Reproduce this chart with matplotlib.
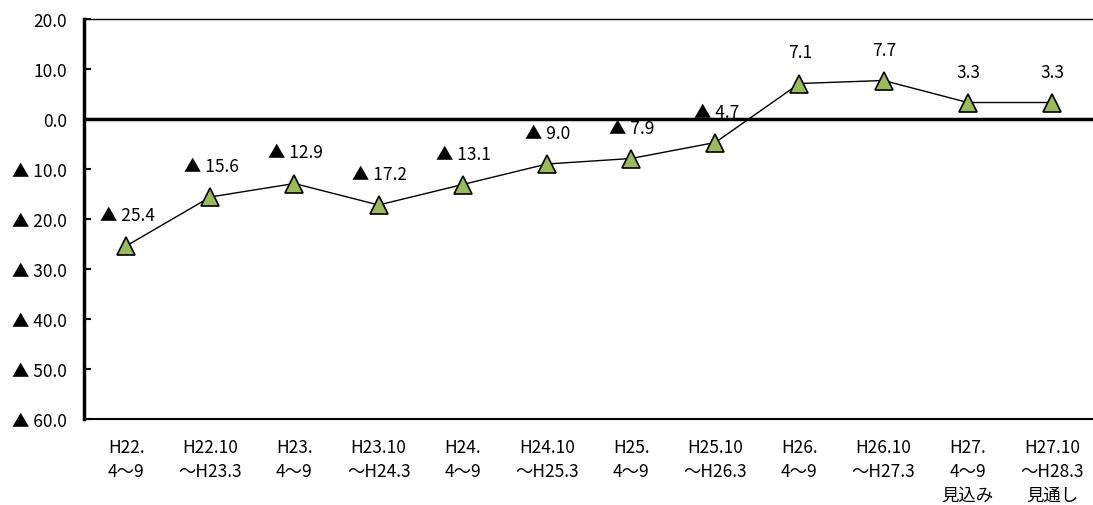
import matplotlib
matplotlib.use("Agg")
import matplotlib.pyplot as plt

plt.rcParams['font.family'] = ['Noto Sans CJK JP', 'DejaVu Sans']

categories = ["H22.\n4～9", "H22.10\n～H23.3", "H23.\n4～9", "H23.10\n～H24.3",
              "H24.\n4～9", "H24.10\n～H25.3", "H25.\n4～9", "H25.10\n～H26.3",
              "H26.\n4～9", "H26.10\n～H27.3", "H27.\n4～9\n見込み", "H27.10\n～H28.3\n見通し"]
values = [-25.4, -15.6, -12.9, -17.2, -13.1, -9.0, -7.9, -4.7, 7.1, 7.7, 3.3, 3.3]
yticks = [20, 10, 0, -10, -20, -30, -40, -50, -60]

FS = 12.5


def fmt(v):
    return f"{v:.1f}" if v >= 0 else f"▲ {abs(v):.1f}"


fig = plt.figure(figsize=(10.93, 5.06), dpi=100)
ax = fig.add_axes([84 / 1093, 1 - 420 / 506, 1010 / 1093, 400 / 506])

x = list(range(len(values)))
ax.plot(x, values, color='black', linewidth=1.0, marker='^', markersize=13,
        markerfacecolor='#9BBB59', markeredgecolor='black', markeredgewidth=1.2, zorder=3)
ax.axhline(0, color='black', linewidth=2.5, zorder=2)

for xi, v in zip(x, values):
    ax.annotate(fmt(v), (xi, v), xytext=(1, 31), textcoords='offset pixels',
                ha='center', va='center', fontsize=FS)

ax.set_xlim(-0.5, len(values) - 0.5)
ax.set_ylim(-60, 20)
ax.set_yticks(yticks)
ax.set_yticklabels([fmt(v) for v in yticks], fontsize=FS)
ax.set_xticks(x)
ax.set_xticklabels(categories, fontsize=FS, linespacing=1.4, va='top')
ax.tick_params(axis='x', length=0, pad=14)
ax.tick_params(axis='y', direction='in', length=5, width=1.5, pad=12)

ax.spines['left'].set_linewidth(2.5)
ax.spines['bottom'].set_linewidth(1.5)
ax.spines['top'].set_linewidth(1.0)
ax.spines['right'].set_visible(False)

fig.savefig('out.png', dpi=100)
